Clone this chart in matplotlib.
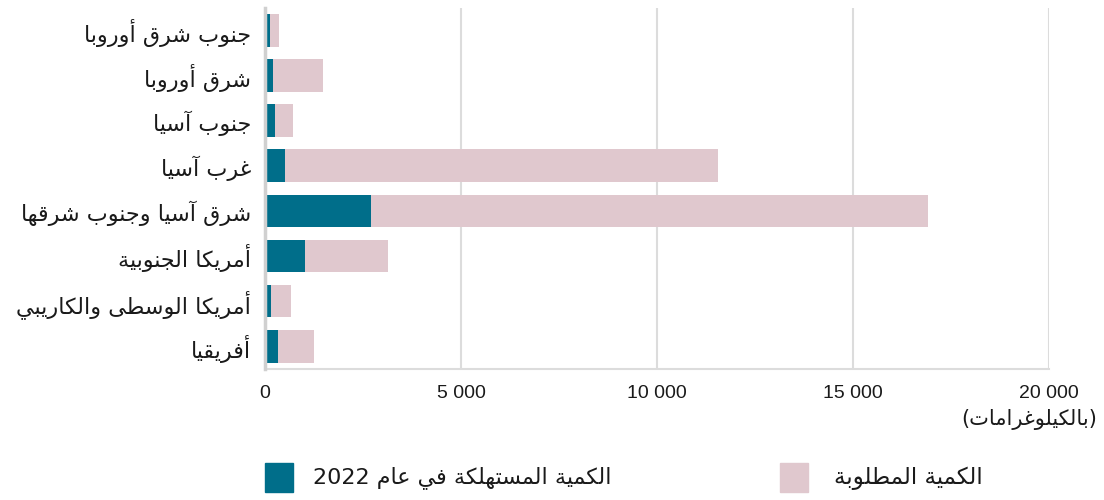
import numpy as np
import matplotlib
matplotlib.use("Agg")
import matplotlib.pyplot as plt
from matplotlib.patches import Rectangle

# regions, top to bottom
regions = ["جنوب شرق أوروبا", "شرق أوروبا", "جنوب آسيا", "غرب آسيا",
           "شرق آسيا وجنوب شرقها", "أمريكا الجنوبية",
           "أمريكا الوسطى والكاريبي", "أفريقيا"]
# kg consumed in 2022 and kg needed
consumed = [120, 205, 255, 510, 2710, 1020, 155, 330]
needed = [350, 1480, 715, 11560, 16910, 3140, 665, 1250]
xticks = [0, 5000, 10000, 15000, 20000]
xticklabels = ["0", "5 000", "10 000", "15 000", "20 000"]
unit_label = "(بالكيلوغرامات)"
legend_consumed = "الكمية المستهلكة في عام 2022"
legend_needed = "الكمية المطلوبة"

TEAL = "#006e8a"
PINK = "#e0c8ce"
GRID = "#dcdcdc"

# matplotlib has no arabic shaping, so do it by hand with presentation forms
# char -> (isolated form, number of forms)
FORMS = {
    "ا": (0xFE8D, 2), "أ": (0xFE83, 2), "آ": (0xFE81, 2), "إ": (0xFE87, 2),
    "ب": (0xFE8F, 4), "ة": (0xFE93, 2), "ت": (0xFE95, 4), "ث": (0xFE99, 4),
    "ج": (0xFE9D, 4), "ح": (0xFEA1, 4), "خ": (0xFEA5, 4), "د": (0xFEA9, 2),
    "ذ": (0xFEAB, 2), "ر": (0xFEAD, 2), "ز": (0xFEAF, 2), "س": (0xFEB1, 4),
    "ش": (0xFEB5, 4), "ص": (0xFEB9, 4), "ض": (0xFEBD, 4), "ط": (0xFEC1, 4),
    "ظ": (0xFEC5, 4), "ع": (0xFEC9, 4), "غ": (0xFECD, 4), "ف": (0xFED1, 4),
    "ق": (0xFED5, 4), "ك": (0xFED9, 4), "ل": (0xFEDD, 4), "م": (0xFEE1, 4),
    "ن": (0xFEE5, 4), "ه": (0xFEE9, 4), "و": (0xFEED, 2), "ى": (0xFEEF, 2),
    "ي": (0xFEF1, 4),
}
MIRROR = {"(": ")", ")": "("}


def shape(text):
    out = []
    n = len(text)
    for i, ch in enumerate(text):
        if ch not in FORMS:
            out.append(ch)
            continue
        base, nf = FORMS[ch]
        prev = text[i - 1] if i > 0 else ""
        nxt = text[i + 1] if i < n - 1 else ""
        join_prev = prev in FORMS and FORMS[prev][1] == 4
        join_next = nf == 4 and nxt in FORMS
        if join_prev and join_next:
            code = base + 3
        elif join_prev:
            code = base + 1
        elif join_next:
            code = base + 2
        else:
            code = base
        out.append(chr(code))
    return "".join(out)


def ar(text):
    # shape, then flip to visual order keeping digit runs left to right
    s = shape(text)
    runs = []
    cur = ""
    for ch in s:
        if ch.isdigit():
            cur += ch
        else:
            if cur:
                runs.append(cur)
                cur = ""
            runs.append(MIRROR.get(ch, ch))
    if cur:
        runs.append(cur)
    return "".join(reversed(runs))


plt.rcParams['font.family'] = ['DejaVu Sans']

fig = plt.figure(figsize=(11.04, 5.0), dpi=100)
ax = fig.add_axes([265 / 1104, 1 - 368.8 / 500, 784 / 1104, 361 / 500])

y = np.arange(len(regions))
ax.barh(y, needed, height=0.725, color=PINK, zorder=2)
ax.barh(y, consumed, height=0.725, color=TEAL, zorder=3)

ax.set_xlim(0, 20000)
ax.set_ylim(len(regions) - 0.5, -0.5)
ax.set_xticks(xticks)
ax.set_xticklabels(xticklabels, fontsize=14, family=['Liberation Sans', 'DejaVu Sans'])
ax.set_yticks(y)
ax.set_yticklabels([ar(r) for r in regions], fontsize=16)
ax.tick_params(axis='both', length=0, colors="#1a1a1a")
ax.tick_params(axis='x', pad=12)
ax.tick_params(axis='y', pad=10)

ax.grid(axis='x', color=GRID, linewidth=1.5, zorder=0)
ax.grid(axis='y', visible=False)
for side in ['top', 'right']:
    ax.spines[side].set_visible(False)
ax.spines['left'].set_color("#d0d0d0")
ax.spines['left'].set_linewidth(2.5)
ax.spines['bottom'].set_color(GRID)
ax.spines['bottom'].set_linewidth(1.5)
ax.spines['left'].set_zorder(4)

fig.text(1097 / 1104, 1 - 420 / 500, ar(unit_label), ha='right', va='center',
         fontsize=15, color="#1a1a1a")

# legend drawn by hand (square on the left of the text)
fig.patches.append(Rectangle((265 / 1104, 1 - 492 / 500), 28 / 1104, 29 / 500,
                             transform=fig.transFigure, color=TEAL))
fig.text(313 / 1104, 1 - 478 / 500, ar(legend_consumed), ha='left', va='center',
         fontsize=16, color="#1a1a1a")
fig.patches.append(Rectangle((780 / 1104, 1 - 492 / 500), 28 / 1104, 29 / 500,
                             transform=fig.transFigure, color=PINK))
fig.text(834 / 1104, 1 - 478 / 500, ar(legend_needed), ha='left', va='center',
         fontsize=16.5, color="#1a1a1a")

fig.savefig("out.png", dpi=100)
